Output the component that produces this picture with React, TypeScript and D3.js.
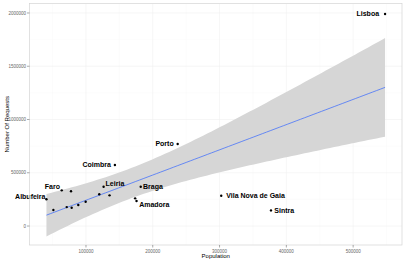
import React from "react";
import * as d3 from "d3";

const cities = [
  "Lisboa", "Porto", "Coimbra", "Braga", "Amadora", "", "Vila Nova de Gaia", "Sintra",
  "Leiria", "Faro", "Albufeira", "", "", "", "", "", "", "", "",
];
const population = [
  547800, 237300, 143300, 182000, 175700, 173600, 302500, 377000,
  126400, 63700, 40800, 51200, 77600, 71200, 78600, 88500, 99500, 119900, 135300,
];
const requests = [
  1990000, 770000, 573000, 369000, 235000, 260000, 284000, 147000,
  369000, 335000, 251000, 150000, 326000, 178000, 172000, 197000, 228000, 298000, 288000,
];
// label placement: anchor and offset in px
const labelAnchor = ["end", "end", "end", "start", "start", "", "start", "start", "start", "end", "end"];
const labelDx = [-6, -4, -4, 2.3, 2.6, 0, 5, 3.3, 2, -1.7, -1];
const labelDy = [0, 0, 0, 0.3, 3.3, 0, 0, 0, -3.4, -3.6, -3];

const xTicks = [100000, 200000, 300000, 400000, 500000];
const yTicks = [0, 500000, 1000000, 1500000, 2000000];

const W = 406, H = 260;
const L = 29.5, R = 402, T = 3.5, B = 245;

export default function App() {
  const x = d3.scaleLinear().domain([15450, 573150]).range([L, R]);
  const y = d3.scaleLinear().domain([-178000, 2089000]).range([B, T]);

  // linear regression with 95% CI
  const n = population.length;
  const mx = d3.mean(population)!;
  const my = d3.mean(requests)!;
  let sxx = 0, sxy = 0;
  for (let i = 0; i < n; i++) {
    sxx += (population[i] - mx) ** 2;
    sxy += (population[i] - mx) * (requests[i] - my);
  }
  const b = sxy / sxx;
  const a = my - b * mx;
  let ssr = 0;
  for (let i = 0; i < n; i++) ssr += (requests[i] - a - b * population[i]) ** 2;
  const s = Math.sqrt(ssr / (n - 2));
  const tq = 2.1098; // t(0.975, 17)
  const [xmin, xmax] = d3.extent(population) as [number, number];
  const grid = d3.range(0, 81).map((i) => xmin + ((xmax - xmin) * i) / 80);
  const band = grid.map((xv) => {
    const fit = a + b * xv;
    const se = s * Math.sqrt(1 / n + (xv - mx) ** 2 / sxx);
    return { xv, fit, lo: fit - tq * se, hi: fit + tq * se };
  });
  const area = d3
    .area<any>()
    .x((d) => x(d.xv))
    .y0((d) => y(d.lo))
    .y1((d) => y(d.hi));
  const line = d3
    .line<any>()
    .x((d) => x(d.xv))
    .y((d) => y(d.fit));

  const xMinor = [50000, 150000, 250000, 350000, 450000, 550000];
  const yMinor = [250000, 750000, 1250000, 1750000];

  return (
    <svg width={W} height={H} style={{ position: "absolute", left: 0, top: 0, background: "#fff" }}
      fontFamily="'Liberation Sans', Arial, sans-serif">
      <defs>
        <clipPath id="pc"><rect x={L} y={T} width={R - L} height={B - T} /></clipPath>
      </defs>
      <rect x={L} y={T} width={R - L} height={B - T} fill="#fff" />
      <g clipPath="url(#pc)">
        {xMinor.map((v) => (
          <line key={"xm" + v} x1={x(v)} x2={x(v)} y1={T} y2={B} stroke="#f7f7f7" strokeWidth={0.4} />
        ))}
        {yMinor.map((v) => (
          <line key={"ym" + v} y1={y(v)} y2={y(v)} x1={L} x2={R} stroke="#f7f7f7" strokeWidth={0.4} />
        ))}
        {xTicks.map((v) => (
          <line key={"xg" + v} x1={x(v)} x2={x(v)} y1={T} y2={B} stroke="#f0f0f0" strokeWidth={0.6} />
        ))}
        {yTicks.map((v) => (
          <line key={"yg" + v} y1={y(v)} y2={y(v)} x1={L} x2={R} stroke="#f0f0f0" strokeWidth={0.6} />
        ))}
        <path d={area(band)!} fill="#d6d6d6" />
        <path d={line(band)!} fill="none" stroke="#3366FF" strokeWidth={0.7} />
        {population.map((p, i) => (
          <circle key={"p" + i} cx={x(p)} cy={y(requests[i])} r={1.2} fill="#000" />
        ))}
      </g>
      {cities.map((c, i) =>
        c ? (
          <text key={"l" + i} x={x(population[i]) + labelDx[i]} y={y(requests[i]) + labelDy[i]}
            dy="0.35em" textAnchor={labelAnchor[i]} fontSize={7} fontWeight="bold" fill="#000">
            {c}
          </text>
        ) : null
      )}
      <rect x={L} y={T} width={R - L} height={B - T} fill="none" stroke="#d4d4d4" strokeWidth={0.7} />
      {xTicks.map((v) => (
        <g key={"xt" + v}>
          <line x1={x(v)} x2={x(v)} y1={B} y2={B + 2.5} stroke="#555" strokeWidth={0.5} />
          <text x={x(v)} y={B + 7.5} textAnchor="middle" fontSize={4.5} fill="#666">{v}</text>
        </g>
      ))}
      {yTicks.map((v) => (
        <g key={"yt" + v}>
          <line x1={L - 2.5} x2={L} y1={y(v)} y2={y(v)} stroke="#555" strokeWidth={0.5} />
          <text x={L - 3.5} y={y(v)} dy="0.35em" textAnchor="end" fontSize={4.5} fill="#666">{v}</text>
        </g>
      ))}
      <text x={(L + R) / 2} y={257.5} textAnchor="middle" fontSize={6} fill="#000">Population</text>
      <text transform={`translate(8.5,${(T + B) / 2}) rotate(-90)`} textAnchor="middle" fontSize={6} fill="#000">
        Number Of Requests
      </text>
    </svg>
  );
}
